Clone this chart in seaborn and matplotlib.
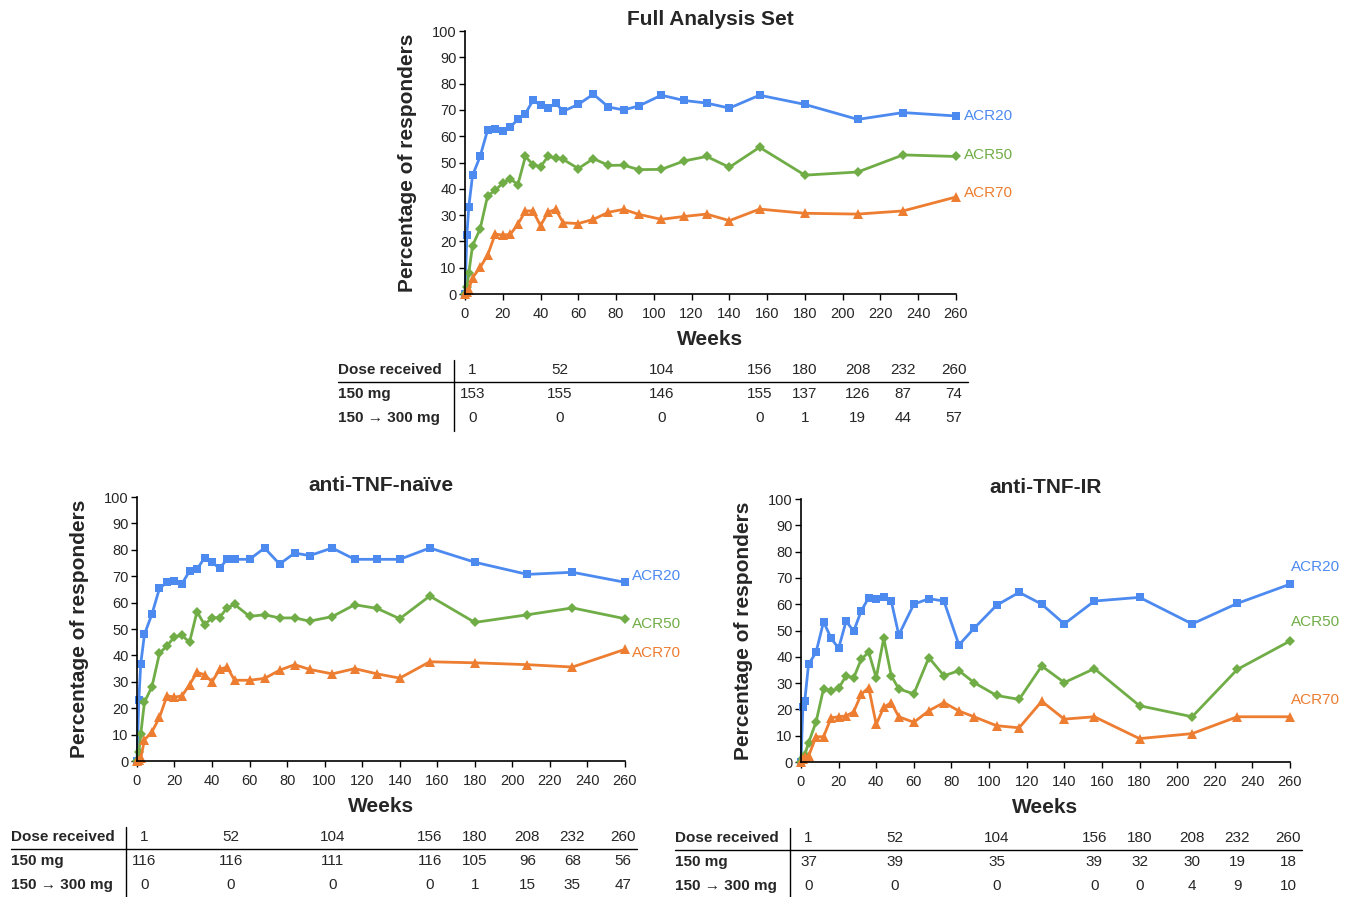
import pandas as pd
import matplotlib.pyplot as plt
import seaborn as sns
from matplotlib.transforms import blended_transform_factory

# weeks of assessment (shared by all three panels)
weeks = [0, 1, 2, 4, 8, 12, 16, 20, 24, 28, 32, 36, 40, 44, 48, 52, 60, 68, 76, 84,
         92, 104, 116, 128, 140, 156, 180, 208, 232, 260]

# Full Analysis Set
fas_acr20 = [0, 22.4, 33.0, 45.1, 52.3, 62.4, 62.6, 62.0, 63.5, 66.4, 68.6, 73.6, 71.9, 70.7, 72.6,
             69.5, 72.1, 76.0, 71.1, 70.0, 71.5, 75.6, 73.6, 72.6, 70.7, 75.6, 72.1, 66.4, 69.0, 67.7]
fas_acr50 = [0, 2.8, 7.9, 18.4, 24.7, 37.4, 39.4, 42.2, 43.8, 41.6, 52.3, 49.2, 48.4, 52.3, 51.7,
             51.2, 47.7, 51.5, 48.9, 49.0, 47.3, 47.4, 50.6, 52.3, 48.2, 55.8, 45.2, 46.4, 52.9, 52.3]
fas_acr70 = [0, 0.7, 1.7, 6.2, 10.1, 14.8, 22.8, 22.4, 22.7, 26.5, 31.6, 31.6, 26.0, 31.1, 32.2,
             27.1, 26.8, 28.4, 31.1, 32.2, 30.3, 28.4, 29.5, 30.4, 27.9, 32.3, 30.7, 30.4, 31.6, 36.9]

# anti-TNF-naive
naive_acr20 = [0, 23.1, 36.7, 48.0, 55.7, 65.4, 67.7, 68.1, 67.2, 71.9, 72.6, 77.0, 75.3, 73.0, 76.4,
               76.4, 76.4, 80.7, 74.6, 78.8, 77.8, 80.7, 76.4, 76.4, 76.4, 80.7, 75.3, 70.7, 71.5, 67.7]
naive_acr50 = [0, 3.3, 10.1, 22.3, 28.2, 40.8, 43.6, 47.1, 47.6, 45.0, 56.6, 51.6, 54.3, 54.3, 58.0,
               59.3, 54.8, 55.4, 54.2, 54.2, 53.0, 54.7, 59.2, 57.8, 53.9, 62.5, 52.5, 55.4, 58.0, 53.9]
naive_acr70 = [0, 0.5, 1.0, 8.0, 11.1, 16.5, 24.7, 24.2, 24.7, 28.9, 33.6, 32.7, 30.0, 34.7, 35.6,
               30.6, 30.6, 31.3, 34.4, 36.5, 34.7, 33.0, 35.0, 33.0, 31.4, 37.6, 37.2, 36.5, 35.6, 42.3]

# anti-TNF-IR
ir_acr20 = [0, 21.0, 23.1, 37.1, 41.7, 53.3, 47.1, 43.2, 53.6, 49.7, 57.4, 62.5, 62.1, 62.6, 61.2,
            48.3, 60.0, 62.1, 61.2, 44.5, 50.8, 59.6, 64.5, 60.0, 52.5, 61.2, 62.6, 52.5, 60.3, 67.6]
ir_acr50 = [0, 1.5, 2.7, 7.3, 15.2, 27.9, 27.0, 28.0, 32.8, 32.0, 39.0, 41.8, 32.0, 47.1, 32.8,
            27.8, 25.9, 39.7, 32.8, 34.7, 30.2, 25.3, 23.8, 36.5, 30.2, 35.5, 21.4, 17.2, 35.2, 46.0]
ir_acr70 = [0, 1.0, 1.8, 2.2, 9.6, 9.6, 16.8, 17.2, 17.5, 19.1, 25.7, 28.3, 14.3, 20.8, 22.6,
            17.2, 15.1, 19.5, 22.6, 19.4, 17.2, 13.8, 13.0, 23.1, 16.3, 17.2, 8.9, 10.8, 17.2, 17.2]

# patients by dose received
dose_weeks = ['1', '52', '104', '156', '180', '208', '232', '260']
fas_150 = [153, 155, 146, 155, 137, 126, 87, 74]
fas_300 = [0, 0, 0, 0, 1, 19, 44, 57]
naive_150 = [116, 116, 111, 116, 105, 96, 68, 56]
naive_300 = [0, 0, 0, 0, 1, 15, 35, 47]
ir_150 = [37, 39, 35, 39, 32, 30, 19, 18]
ir_300 = [0, 0, 0, 0, 0, 4, 9, 10]

measures = ['ACR20', 'ACR50', 'ACR70']
colors = {'ACR20': '#4D8AF0', 'ACR50': '#70AD47', 'ACR70': '#ED7D31'}
markers = {'ACR20': 's', 'ACR50': 'D', 'ACR70': '^'}
marker_sizes = {'s': 5.5, 'D': 5.0, '^': 7.0}
col_x = [4, 50, 104, 156, 180, 208, 232, 259]

sns.set_style('ticks')
plt.rcParams['font.family'] = ['Liberation Sans', 'DejaVu Sans']

fig = plt.figure(figsize=(13.56, 8.97), dpi=100)


def draw_panel(rect, title, series, label_y, label_dx, n150, n300):
    ax = fig.add_axes(rect)
    df = pd.DataFrame({
        'Weeks': weeks * 3,
        'value': series[0] + series[1] + series[2],
        'measure': [m for m in measures for _ in weeks],
    })
    sns.lineplot(data=df, x='Weeks', y='value', hue='measure', style='measure',
                 palette=colors, markers=markers, dashes=False, legend=False,
                 estimator=None, sort=False, ax=ax, linewidth=2, markersize=5,
                 markeredgewidth=0, clip_on=False)
    for line in ax.lines:
        mk = line.get_marker()
        if mk in marker_sizes:
            line.set_markersize(marker_sizes[mk])
    ax.set_xlim(0, 260)
    ax.set_ylim(0, 100)
    ax.set_xticks(range(0, 261, 20))
    ax.set_yticks(range(0, 101, 10))
    ax.tick_params(length=4, width=1, labelsize=10.5, color='black')
    ax.tick_params(axis='x', pad=5)
    ax.tick_params(axis='y', pad=2)
    sns.despine(ax=ax)
    for s in ['left', 'bottom']:
        ax.spines[s].set_color('black')
        ax.spines[s].set_linewidth(1.2)
    ax.set_xlabel('Weeks', fontsize=15, fontweight='bold', labelpad=7)
    ax.set_ylabel('Percentage of responders', fontsize=15, fontweight='bold', labelpad=11)
    ax.set_title(title, fontsize=15, fontweight='bold', pad=4)

    for m, y in zip(measures, label_y):
        ax.annotate(m, xy=(260, y), xytext=(label_dx, 0), textcoords='offset points',
                    color=colors[m], fontsize=11, va='center', ha='left',
                    annotation_clip=False)

    # dose table under the chart
    tr = blended_transform_factory(ax.transData, ax.transAxes)
    tra = ax.transAxes
    rows_y = [-0.289, -0.380, -0.471]
    row_names = ['Dose received', '150 mg', '150 \u2192 300 mg']
    for name, y in zip(row_names, rows_y):
        ax.text(-0.258, y, name, transform=tra, fontsize=11, fontweight='bold',
                ha='left', va='center')
    for x, lab, a, b in zip(col_x, dose_weeks, n150, n300):
        ax.text(x, rows_y[0], lab, transform=tr, fontsize=11, ha='center', va='center')
        ax.text(x, rows_y[1], str(a), transform=tr, fontsize=11, ha='center', va='center')
        ax.text(x, rows_y[2], str(b), transform=tr, fontsize=11, ha='center', va='center')
    ax.plot([-0.258, 1.025], [-0.335, -0.335], transform=tra, color='black',
            lw=1, clip_on=False)
    ax.plot([-0.022, -0.022], [-0.25, -0.52], transform=tra, color='black',
            lw=1, clip_on=False)
    return ax


draw_panel([0.3429, 0.6722, 0.3621, 0.2932], 'Full Analysis Set',
           [fas_acr20, fas_acr50, fas_acr70], [67.7, 52.9, 38.4], 6, fas_150, fas_300)
draw_panel([0.1010, 0.1516, 0.3599, 0.2943], 'anti-TNF-na\u00efve',
           [naive_acr20, naive_acr50, naive_acr70], [70.1, 51.9, 40.9], 5, naive_150, naive_300)
draw_panel([0.5907, 0.1505, 0.3606, 0.2932], 'anti-TNF-IR',
           [ir_acr20, ir_acr50, ir_acr70], [74.1, 53.2, 23.6], 1, ir_150, ir_300)

fig.savefig('out.png', dpi=100)
